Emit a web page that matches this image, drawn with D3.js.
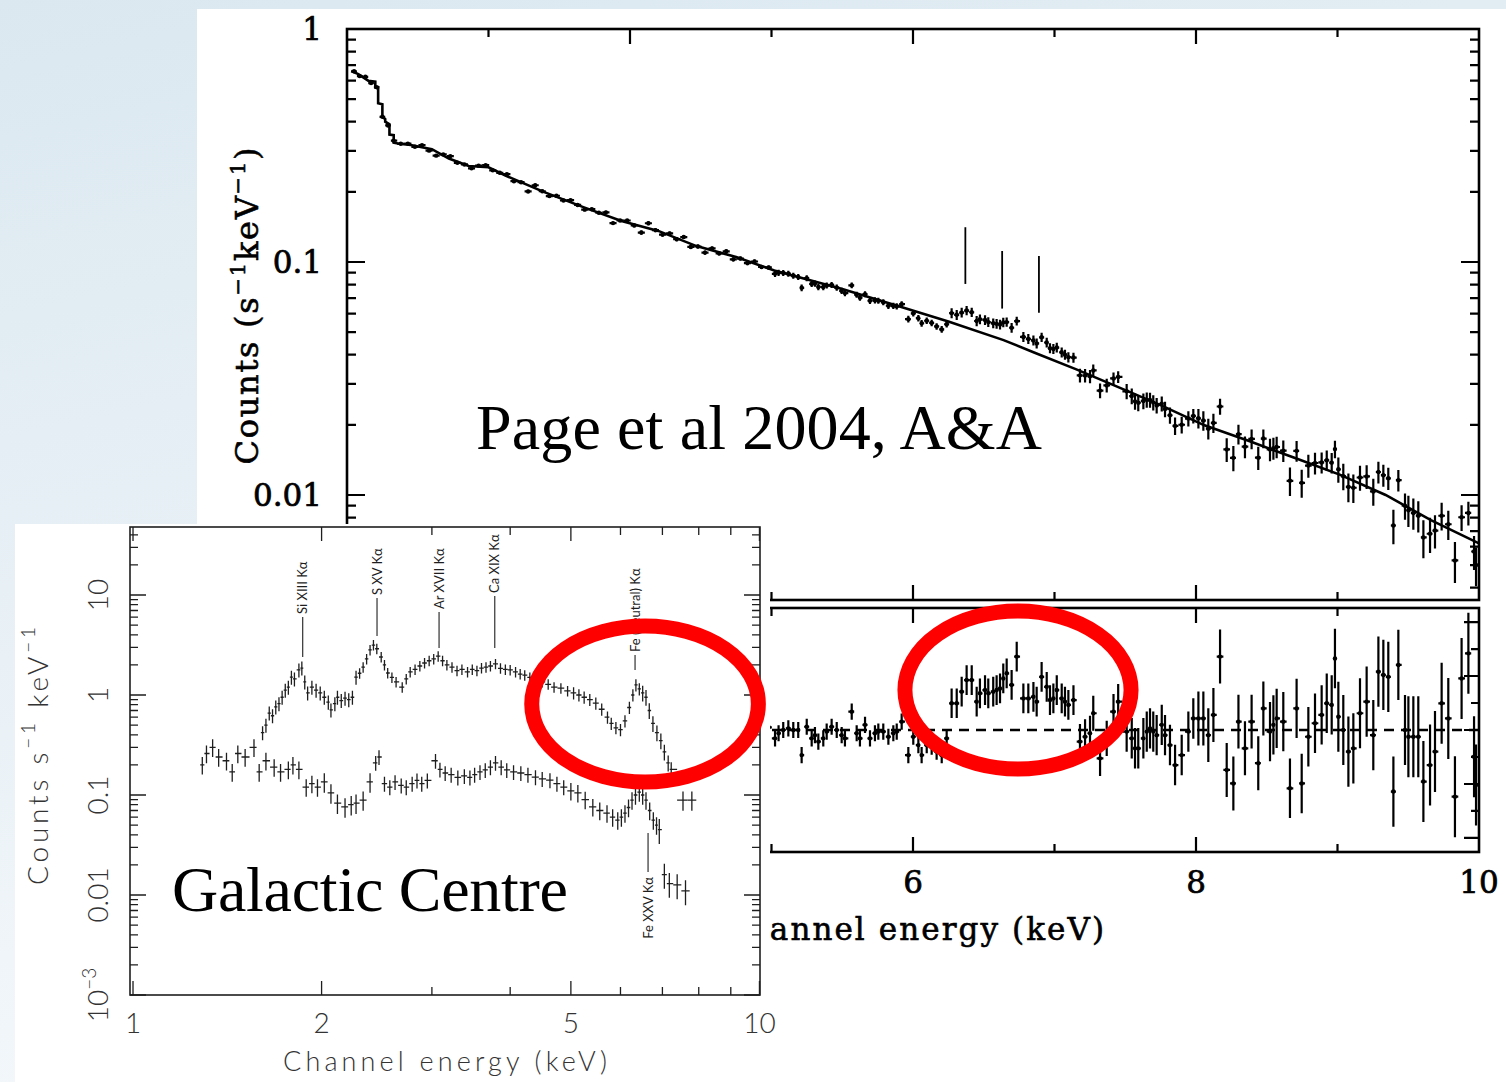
<!DOCTYPE html>
<html>
<head>
<meta charset="utf-8">
<title>Galactic Centre X-ray spectra</title>
<script src="https://cdn.jsdelivr.net/npm/d3@7/dist/d3.min.js"></script>
<style>
  html, body { margin: 0; padding: 0; background: #fff; }
  #slide svg { display: block; }
</style>
</head>
<body>
<div id="slide"></div>
<script>
// ---------- Page et al 2004 spectrum: model curve (keV, counts s^-1 keV^-1)
const modelE = [2.03, 2.08, 2.15, 2.2, 2.2, 2.22, 2.22, 2.25, 2.25, 2.27, 2.27, 2.3, 2.3, 2.33, 2.33, 2.37,
  2.45, 2.6, 2.72, 2.86, 3.0, 3.12, 3.39, 3.67, 3.94, 4.2, 4.47, 4.75, 5.02, 5.5, 5.9, 6.25,
  6.64, 6.86, 7.15, 7.43, 7.75, 8.06, 8.38, 8.7, 9.02, 9.34, 9.66, 10.0];
const modelC = [0.66, 0.64, 0.60, 0.595, 0.56, 0.555, 0.48, 0.475, 0.42, 0.41, 0.40, 0.39, 0.352, 0.35, 0.325, 0.322,
  0.318, 0.305, 0.278, 0.258, 0.255, 0.235, 0.2, 0.172, 0.15, 0.136, 0.117, 0.105, 0.092, 0.0765, 0.0645, 0.0555,
  0.0462, 0.0408, 0.0347, 0.0294, 0.0243, 0.0199, 0.017, 0.0144, 0.0122, 0.0100, 0.0078, 0.0062];

// channel energies and data/model ratio
const binE = [
  2.05, 2.09, 2.13, 2.17, 2.21, 2.25, 2.29, 2.33, 2.38, 2.43,
  2.48, 2.53, 2.58, 2.63, 2.68, 2.73, 2.78, 2.83, 2.88, 2.93,
  2.98, 3.03, 3.08, 3.13, 3.18, 3.23, 3.28, 3.33, 3.38, 3.43,
  3.48, 3.53, 3.58, 3.63, 3.68, 3.73, 3.78, 3.83, 3.88, 3.93,
  3.98, 4.03, 4.08, 4.13, 4.18, 4.23, 4.28, 4.33, 4.38, 4.43,
  4.48, 4.53, 4.58, 4.63, 4.68, 4.73, 4.78, 4.83, 4.88, 4.93,
  4.98,
  5.025, 5.05, 5.083, 5.119, 5.154, 5.189, 5.213, 5.249, 5.284, 5.307,
  5.331, 5.366, 5.39, 5.425, 5.461, 5.496, 5.519, 5.567, 5.602, 5.625,
  5.661, 5.696, 5.731, 5.755, 5.79, 5.826, 5.861, 5.885, 5.92, 5.967,
  6.002, 6.038, 6.061, 6.097, 6.132, 6.167, 6.203, 6.238, 6.273, 6.309,
  6.344, 6.379, 6.415, 6.45, 6.473, 6.509, 6.532, 6.567, 6.591, 6.615,
  6.638, 6.662, 6.697, 6.733, 6.78, 6.815, 6.851, 6.874, 6.909, 6.945,
  6.968, 6.992, 7.016, 7.051, 7.074, 7.098, 7.134, 7.18, 7.216, 7.251,
  7.274, 7.322, 7.369, 7.417, 7.45, 7.51, 7.546, 7.569, 7.592, 7.628,
  7.652, 7.675, 7.698, 7.722, 7.758, 7.781, 7.816, 7.852, 7.899, 7.946,
  7.981, 8.017, 8.052, 8.087, 8.123, 8.17, 8.217, 8.264, 8.3, 8.346,
  8.393, 8.44, 8.476, 8.523, 8.547, 8.57, 8.617, 8.664, 8.711, 8.747,
  8.794, 8.841, 8.888, 8.924, 8.959, 8.982, 9.006, 9.041, 9.077, 9.112,
  9.159, 9.206, 9.253, 9.289, 9.324, 9.359, 9.395, 9.43, 9.477, 9.501,
  9.536, 9.571, 9.607, 9.654, 9.689, 9.736, 9.783, 9.83, 9.877, 9.925,
  9.965, 9.979];
const binRatio = [
  1.01, 0.99, 1.02, 0.98, 1.01, 1.00, 0.98, 1.02, 1.00, 1.01,
  0.99, 1.02, 0.98, 0.96, 1.01, 1.03, 0.99, 1.00, 0.98, 1.01,
  1.02, 0.99, 1.00, 1.02, 0.98, 1.00, 0.94, 1.03, 1.00, 0.98,
  1.01, 0.99, 1.02, 1.00, 0.98, 1.01, 1.00, 1.03, 0.95, 1.00,
  1.02, 0.99, 0.94, 1.05, 1.00, 0.98, 1.02, 0.99, 1.04, 0.97,
  1.00, 0.96, 1.02, 0.99, 1.03, 0.97, 1.00, 0.98, 1.02, 0.99,
  1.01,
  0.969, 0.988, 1.0, 1.006, 1.0, 1.0, 0.907, 1.012, 0.969, 0.981,
  0.957, 0.969, 0.994, 1.012, 1.0, 0.981, 0.969, 1.068, 0.988, 0.969,
  1.019, 0.969, 0.988, 0.994, 0.994, 0.975, 0.988, 0.994, 1.031, 0.907,
  0.975, 0.944, 0.907, 0.944, 0.938, 0.92, 0.907, 0.969, 1.099, 1.099,
  1.142, 1.185, 1.185, 1.105, 1.136, 1.148, 1.136, 1.142, 1.148, 1.154,
  1.191, 1.21, 1.167, 1.272, 1.117, 1.117, 1.123, 1.105, 1.197, 1.16,
  1.111, 1.117, 1.148, 1.117, 1.105, 1.093, 1.111, 0.957, 0.975, 0.988,
  1.062, 0.895, 0.969, 1.068, 1.105, 0.994, 0.969, 0.932, 0.932, 0.969,
  0.994, 1.006, 0.994, 0.981, 1.019, 0.981, 0.944, 0.87, 0.907, 0.994,
  1.043, 1.043, 1.043, 0.981, 1.056, 1.272, 0.852, 0.802, 1.031, 0.932,
  1.031, 0.877, 1.08, 0.994, 1.019, 1.043, 1.031, 0.784, 1.08, 0.802,
  0.975, 1.025, 1.056, 1.099, 1.093, 1.265, 1.049, 1.0, 0.92, 0.932,
  1.062, 1.105, 0.981, 1.216, 1.204, 1.197, 0.772, 1.241, 1.0, 0.975,
  0.975, 0.975, 0.809, 0.87, 0.92, 1.099, 1.043, 0.753, 1.191, 1.284,
  0.901, 0.796];
// ratio error, by energy band
const errBandE = [3, 4, 5, 6.25, 7.15, 7.5, 8, 8.5, 9, 9.5];
const errBandVal = [0.012, 0.015, 0.02, 0.03, 0.055, 0.065, 0.075, 0.1, 0.11, 0.13, 0.15];
// iron line markers above the spectrum
const markE = [6.37, 6.63, 6.89];
const markTop = [0.141, 0.1115, 0.1061];
const markBottom = [0.0805, 0.0631, 0.0605];
const mainXLabels = [6, 8, 10];
const mainYLabels = ['1', '0.1', '0.01'];
const ratioTicks = [0.6, 0.7, 0.8, 0.9, 1.0, 1.1, 1.2, 1.3, 1.4];

// ---------- Galactic Centre inset: two spectra
const gcHardE = [
  1.61, 1.63, 1.65, 1.67, 1.69, 1.71, 1.73, 1.75, 1.77, 1.79,
  1.81, 1.84, 1.86, 1.88, 1.90, 1.93, 1.96, 1.99, 2.02, 2.05,
  2.07, 2.10, 2.12, 2.15, 2.18, 2.21, 2.24, 2.27, 2.30, 2.33,
  2.36, 2.39, 2.42, 2.45, 2.49, 2.52, 2.55, 2.59, 2.63, 2.69,
  2.73, 2.77, 2.82, 2.87, 2.92, 2.97, 3.02, 3.07, 3.12, 3.17,
  3.23, 3.29, 3.35, 3.42, 3.48, 3.54, 3.60, 3.66, 3.72, 3.79,
  3.86, 3.93, 4.00, 4.08, 4.15, 4.22, 4.30, 4.40, 4.50, 4.60,
  4.70, 4.82, 4.94, 5.05, 5.15, 5.25, 5.36, 5.48, 5.60, 5.72,
  5.80, 5.90, 6.00, 6.10, 6.20, 6.28, 6.35, 6.43, 6.51, 6.59,
  6.67, 6.76, 6.86, 6.96, 7.05, 7.15, 7.23, 7.55, 7.80];
const gcHardC = [
  0.42, 0.50, 0.66, 0.62, 0.76, 0.82, 0.95, 1.12, 1.20, 1.51,
  1.45, 1.78, 1.86, 1.35, 1.05, 1.20, 1.12, 1.05, 0.95, 0.85,
  0.71, 0.82, 0.95, 0.88, 0.93, 0.90, 0.95, 1.51, 1.65, 1.90,
  2.30, 2.82, 3.16, 2.90, 2.40, 2.00, 1.66, 1.50, 1.35, 1.20,
  1.45, 1.70, 1.80, 1.95, 2.09, 2.20, 2.30, 2.45, 2.20, 2.00,
  1.90, 1.75, 1.80, 1.70, 1.80, 1.75, 1.86, 1.90, 1.95, 2.05,
  1.85, 1.80, 1.78, 1.70, 1.62, 1.58, 1.50, 1.42, 1.35, 1.28,
  1.20, 1.17, 1.10, 1.05, 1.00, 0.95, 0.90, 0.83, 0.72, 0.60,
  0.52, 0.47, 0.45, 0.55, 0.75, 1.00, 1.26, 1.15, 1.05, 0.95,
  0.70, 0.52, 0.42, 0.35, 0.27, 0.21, 0.18, 0.089, 0.089];
const gcSoftE = [
  1.29, 1.31, 1.34, 1.37, 1.41, 1.44, 1.47, 1.51, 1.56, 1.59,
  1.63, 1.68, 1.72, 1.77, 1.80, 1.84, 1.89, 1.93, 1.97, 2.02,
  2.07, 2.12, 2.18, 2.23, 2.27, 2.33, 2.39, 2.44, 2.47, 2.52,
  2.57, 2.62, 2.68, 2.73, 2.79, 2.84, 2.89, 2.95, 3.04, 3.09,
  3.15, 3.22, 3.30, 3.38, 3.45, 3.51, 3.58, 3.65, 3.72, 3.79,
  3.87, 3.95, 4.05, 4.16, 4.27, 4.39, 4.50, 4.63, 4.75, 4.87,
  5.00, 5.13, 5.27, 5.42, 5.56, 5.71, 5.83, 5.94, 6.02, 6.10,
  6.18, 6.26, 6.34, 6.43, 6.51, 6.59, 6.68, 6.77, 6.85, 6.92,
  7.05, 7.18, 7.39, 7.62];
const gcSoftC = [
  0.20, 0.26, 0.30, 0.24, 0.22, 0.17, 0.26, 0.24, 0.30, 0.17,
  0.22, 0.19, 0.17, 0.18, 0.20, 0.18, 0.12, 0.13, 0.12, 0.135,
  0.105, 0.083, 0.076, 0.080, 0.083, 0.089, 0.135, 0.21, 0.24, 0.13,
  0.12, 0.135, 0.125, 0.12, 0.13, 0.14, 0.13, 0.14, 0.22, 0.18,
  0.166, 0.16, 0.15, 0.155, 0.15, 0.16, 0.17, 0.178, 0.19, 0.21,
  0.19, 0.178, 0.17, 0.166, 0.16, 0.151, 0.145, 0.141, 0.13, 0.12,
  0.11, 0.105, 0.09, 0.076, 0.07, 0.066, 0.06, 0.056, 0.06, 0.066,
  0.075, 0.089, 0.10, 0.107, 0.10, 0.089, 0.07, 0.056, 0.05, 0.045,
  0.016, 0.013, 0.0126, 0.011];
// fractional errors by energy band
const hardErrBandE = [2.3, 5.0, 6.5, 7.4];
const hardErrVal = [0.16, 0.12, 0.14, 0.18, 0.22];
const softErrBandE = [2.0, 2.4, 5.0, 6.9];
const softErrVal = [0.2, 0.22, 0.17, 0.2, 0.28];
// emission line identifications
const hardLineNames = ['Si XIII Kα', 'S XV Kα', 'Ar XVII Kα', 'Ca XIX Kα', 'Fe (neutral) Kα'];
const hardLineE = [1.866, 2.452, 3.08, 3.78, 6.33];
const hardLineTop = [6.03, 9.33, 6.76, 9.77, 2.51];
const hardLineBottom = [2.4, 3.89, 2.95, 2.95, 1.78];
const softLineNames = ['Fe XXV Kα'];
const softLineE = [6.64];
const softLineTop = [0.0417];
const softLineBottom = [0.017];
const insetXLabels = [1, 2, 5, 10];
const insetYLabels = [10, 1, 0.1, 0.01, 0.001];

// highlighted regions: [E low, E high, value low, value high]
const ringInset = [4.33, 9.96, 0.135, 4.9];
const ringRatio = [5.943, 7.541, 0.8556, 1.4407];

const svgW = 1506, svgH = 1082;
const svg = d3.select('#slide').append('svg')
    .attr('width', svgW)
    .attr('height', svgH);
const defs = svg.append('defs');

drawBackground();
const mainScales = displayMainSpectrum();
const insetScales = displayInset();
drawRings();

function drawBackground() {
  const grad = defs.append('linearGradient')
      .attr('id', 'slide-bg')
      .attr('x1', 0).attr('y1', 0).attr('x2', 0.3).attr('y2', 1);
  grad.append('stop').attr('offset', 0).attr('stop-color', '#dbe8f0');
  grad.append('stop').attr('offset', 1).attr('stop-color', '#f4f8fb');
  svg.append('rect').attr('width', svgW).attr('height', svgH).attr('fill', 'url(#slide-bg)');
  // pasted plot image area
  svg.append('rect')
      .attr('x', 197).attr('y', 9)
      .attr('width', svgW - 197).attr('height', svgH - 9)
      .attr('fill', '#fff');
}

// bin edges halfway to the neighbouring points (pixel space)
function binEdges(px) {
  return px.map((p, i) => {
    const prev = i > 0 ? px[i - 1] : 2 * p - px[i + 1];
    const next = i < px.length - 1 ? px[i + 1] : 2 * p - px[i - 1];
    return [(prev + p) / 2, (p + next) / 2];
  });
}

function displayMainSpectrum() {
  const x = d3.scaleLinear().domain([2, 10]).range([347, 1479]);
  const y = d3.scaleLog().domain([0.003542, 1]).range([600, 29]);
  const yr = d3.scaleLinear().domain([0.548, 1.452]).range([852, 608]);
  const g = svg.append('g').attr('id', 'page-spectrum');

  const logModel = d3.scaleLinear().domain(modelE).range(modelC.map(Math.log10));
  const errAt = d3.scaleThreshold().domain(errBandE).range(errBandVal);
  const px = binE.map(e => x(e));
  const edges = binEdges(px);
  const bins = binE.map((e, i) => ({
    e, r: binRatio[i], dr: errAt(e),
    m: Math.pow(10, logModel(e)),
    xl: edges[i][0], xr: edges[i][1]
  }));

  defs.append('clipPath').attr('id', 'clip-upper')
    .append('rect').attr('x', 347).attr('y', 29).attr('width', 1132).attr('height', 571);
  defs.append('clipPath').attr('id', 'clip-lower')
    .append('rect').attr('x', 347).attr('y', 608).attr('width', 1132).attr('height', 244);

  // model
  const upper = g.append('g').attr('clip-path', 'url(#clip-upper)');
  upper.append('path')
      .datum(modelE)
      .attr('d', d3.line().x(d => x(d)).y((d, i) => y(modelC[i])))
      .attr('fill', 'none')
      .attr('stroke', '#000')
      .attr('stroke-width', 2.6);

  // data points with error bars
  upper.append('g')
      .attr('fill', 'none').attr('stroke', '#000').attr('stroke-width', 2.2)
    .selectAll('path')
    .data(bins)
    .join('path')
      .attr('d', d => `M${d.xl},${y(d.m * d.r)}H${d.xr}M${x(d.e)},${y(d.m * (d.r + d.dr))}V${y(d.m * (d.r - d.dr))}`);
  upper.append('g')
    .selectAll('circle')
    .data(bins)
    .join('circle')
      .attr('cx', d => x(d.e))
      .attr('cy', d => y(d.m * d.r))
      .attr('r', 2.2)
      .attr('fill', '#000');

  // ratio panel
  const lower = g.append('g').attr('clip-path', 'url(#clip-lower)');
  lower.append('line')
      .attr('x1', x(2)).attr('x2', x(10))
      .attr('y1', yr(1)).attr('y2', yr(1))
      .attr('stroke', '#000').attr('stroke-width', 2.6)
      .attr('stroke-dasharray', '10,7');
  lower.append('g')
      .attr('fill', 'none').attr('stroke', '#000').attr('stroke-width', 2.2)
    .selectAll('path')
    .data(bins)
    .join('path')
      .attr('d', d => `M${d.xl},${yr(d.r)}H${d.xr}M${x(d.e)},${yr(d.r + d.dr)}V${yr(d.r - d.dr)}`);
  lower.append('g')
    .selectAll('circle')
    .data(bins)
    .join('circle')
      .attr('cx', d => x(d.e))
      .attr('cy', d => yr(d.r))
      .attr('r', 2.2)
      .attr('fill', '#000');

  // line markers
  g.append('g')
    .selectAll('line')
    .data(markE)
    .join('line')
      .attr('x1', d => x(d)).attr('x2', d => x(d))
      .attr('y1', (d, i) => y(markTop[i]))
      .attr('y2', (d, i) => y(markBottom[i]))
      .attr('stroke', '#000').attr('stroke-width', 1.8);

  // frames
  const frame = g.append('g').attr('fill', 'none').attr('stroke', '#000').attr('stroke-width', 2.6);
  frame.append('rect').attr('x', 347).attr('y', 29).attr('width', 1132).attr('height', 571);
  frame.append('rect').attr('x', 347).attr('y', 608).attr('width', 1132).attr('height', 244);

  // ticks
  const tick = [];
  x.ticks(8).forEach(v => {
    if (v <= 2 || v >= 10) return;
    const len = v % 2 === 0 ? 15 : 8;
    tick.push(`M${x(v)},29v${len}`, `M${x(v)},600v${-len}`, `M${x(v)},608v${len}`, `M${x(v)},852v${-len}`);
  });
  y.ticks().forEach(v => {
    const lg = Math.log10(v);
    const len = Math.abs(lg - Math.round(lg)) < 1e-6 ? 18 : 9;
    if (y(v) < 30 || y(v) > 599) return;
    tick.push(`M347,${y(v)}h${len}`, `M1479,${y(v)}h${-len}`);
  });
  ratioTicks.forEach(v => {
    const len = Math.round(v * 10) % 2 === 0 ? 15 : 8;
    tick.push(`M347,${yr(v)}h${len}`, `M1479,${yr(v)}h${-len}`);
  });
  frame.append('path').attr('d', tick.join('')).attr('stroke-width', 2.2);

  // tick labels
  const lab = g.append('g')
      .attr('font-family', "'DejaVu Serif', serif")
      .attr('font-size', 31)
      .attr('fill', '#000').attr('stroke', '#000').attr('stroke-width', 0.7);
  lab.selectAll('text.ylab')
    .data(mainYLabels)
    .join('text')
      .attr('class', 'ylab')
      .attr('x', 322)
      .attr('y', d => y(+d) + 11)
      .attr('text-anchor', 'end')
      .text(d => d);
  lab.selectAll('text.xlab')
    .data(mainXLabels)
    .join('text')
      .attr('class', 'xlab')
      .attr('x', d => x(d))
      .attr('y', 893)
      .attr('text-anchor', 'middle')
      .text(d => d);

  // axis titles
  g.append('text')
      .attr('x', 913).attr('y', 940)
      .attr('text-anchor', 'middle')
      .attr('font-family', "'DejaVu Serif', serif")
      .attr('font-size', 31)
      .attr('stroke', '#000').attr('stroke-width', 0.6)
      .attr('textLength', 382).attr('lengthAdjust', 'spacing')
      .text('Channel energy (keV)');
  const yt = g.append('text')
      .attr('transform', 'translate(258,306) rotate(-90)')
      .attr('text-anchor', 'middle')
      .attr('font-family', "'DejaVu Serif', serif")
      .attr('font-size', 32)
      .attr('stroke', '#000').attr('stroke-width', 0.6)
      .attr('textLength', 317).attr('lengthAdjust', 'spacing');
  yt.append('tspan').text('Counts (s');
  yt.append('tspan').attr('font-size', 21).attr('dy', -13).text('−1');
  yt.append('tspan').attr('dy', 13).text('keV');
  yt.append('tspan').attr('font-size', 21).attr('dy', -13).text('−1');
  yt.append('tspan').attr('dy', 13).text(')');

  // caption
  svg.append('text')
      .attr('x', 476).attr('y', 449)
      .attr('font-family', "'Liberation Serif', 'Times New Roman', serif")
      .attr('font-size', 64)
      .attr('textLength', 566)
      .text('Page et al 2004, A&A');

  return { x, y, yr };
}

function displayInset() {
  svg.append('rect')
      .attr('x', 15).attr('y', 524)
      .attr('width', 755).attr('height', svgH - 524)
      .attr('fill', '#fff');
  const x = d3.scaleLog().domain([0.989, 10.02]).range([130, 760]);
  const y = d3.scaleLog().domain([0.001, 47.86]).range([995, 527]);
  const g = svg.append('g').attr('id', 'gc-inset');
  const ink = '#1e1e1e';

  function spectrum(E, C, bandE, bandVal) {
    const errAt = d3.scaleThreshold().domain(bandE).range(bandVal);
    const px = E.map(e => x(e));
    const edges = binEdges(px);
    g.append('g')
        .attr('fill', 'none').attr('stroke', ink).attr('stroke-width', 1.3)
      .selectAll('path')
      .data(E)
      .join('path')
        .attr('d', (e, i) => {
          const c = C[i], f = errAt(e);
          return `M${edges[i][0]},${y(c)}H${edges[i][1]}M${px[i]},${y(c * (1 + f))}V${y(c * (1 - f))}`;
        });
  }
  spectrum(gcHardE, gcHardC, hardErrBandE, hardErrVal);
  spectrum(gcSoftE, gcSoftC, softErrBandE, softErrVal);

  // frame and ticks
  const frame = g.append('g').attr('fill', 'none').attr('stroke', ink).attr('stroke-width', 1.6);
  frame.append('rect').attr('x', 130).attr('y', 527).attr('width', 630).attr('height', 468);
  const tick = [];
  x.ticks().forEach(v => {
    const len = insetXLabels.includes(v) ? 14 : 8;
    tick.push(`M${x(v)},995v${-len}`, `M${x(v)},527v${len}`);
  });
  y.ticks().forEach(v => {
    const lg = Math.log10(v);
    const len = Math.abs(lg - Math.round(lg)) < 1e-6 ? 16 : 8;
    tick.push(`M130,${y(v)}h${len}`, `M760,${y(v)}h${-len}`);
  });
  frame.append('path').attr('d', tick.join('')).attr('stroke-width', 1.3);

  // line identifications
  const lines = g.append('g').attr('font-family', "Lato, 'Liberation Sans', sans-serif")
      .attr('font-size', 13).attr('fill', ink);
  hardLineE.forEach((e, i) => {
    lines.append('line')
        .attr('x1', x(e)).attr('x2', x(e))
        .attr('y1', y(hardLineTop[i])).attr('y2', y(hardLineBottom[i]))
        .attr('stroke', ink).attr('stroke-width', 1.1);
    lines.append('text')
        .attr('transform', `translate(${x(e) + 4.5},${y(hardLineTop[i]) - 3}) rotate(-90)`)
        .attr('text-anchor', 'start')
        .text(hardLineNames[i]);
  });
  softLineE.forEach((e, i) => {
    lines.append('line')
        .attr('x1', x(e)).attr('x2', x(e))
        .attr('y1', y(softLineTop[i])).attr('y2', y(softLineBottom[i]))
        .attr('stroke', ink).attr('stroke-width', 1.1);
    lines.append('text')
        .attr('transform', `translate(${x(e) + 4.5},${y(softLineBottom[i]) + 5}) rotate(-90)`)
        .attr('text-anchor', 'end')
        .text(softLineNames[i]);
  });

  // tick labels
  const lab = g.append('g')
      .attr('font-family', "Lato, 'Liberation Sans', sans-serif")
      .attr('font-weight', 300)
      .attr('font-size', 28)
      .attr('fill', '#333');
  lab.selectAll('text.xlab')
    .data(insetXLabels)
    .join('text')
      .attr('class', 'xlab')
      .attr('x', d => x(d))
      .attr('y', 1033)
      .attr('text-anchor', 'middle')
      .text(d => d);
  insetYLabels.forEach(v => {
    const t = lab.append('text')
        .attr('transform', `translate(108,${y(v)}) rotate(-90)`)
        .attr('text-anchor', 'middle');
    if (v < 0.005) {
      t.append('tspan').text('10');
      t.append('tspan').attr('font-size', 19).attr('dy', -12).text('−3');
    } else {
      t.text(v);
    }
  });

  lab.append('text')
      .attr('x', 445).attr('y', 1071)
      .attr('text-anchor', 'middle')
      .attr('font-size', 27)
      .attr('textLength', 324).attr('lengthAdjust', 'spacing')
      .text('Channel energy (keV)');
  const yt = lab.append('text')
      .attr('transform', 'translate(48,756) rotate(-90)')
      .attr('text-anchor', 'middle')
      .attr('font-size', 28)
      .attr('textLength', 258).attr('lengthAdjust', 'spacing');
  yt.append('tspan').text('Counts  s');
  yt.append('tspan').attr('font-size', 19).attr('dy', -13).text('−1');
  yt.append('tspan').attr('dy', 13).text('  keV');
  yt.append('tspan').attr('font-size', 19).attr('dy', -13).text('−1');

  svg.append('text')
      .attr('x', 172).attr('y', 911)
      .attr('font-family', "'Liberation Serif', 'Times New Roman', serif")
      .attr('font-size', 64)
      .attr('textLength', 396)
      .text('Galactic Centre');

  return { x, y };
}

function drawRings() {
  const rings = [
    { box: ringInset, sx: insetScales.x, sy: insetScales.y },
    { box: ringRatio, sx: mainScales.x, sy: mainScales.yr }
  ];
  svg.append('g')
    .selectAll('ellipse')
    .data(rings)
    .join('ellipse')
      .attr('cx', d => (d.sx(d.box[0]) + d.sx(d.box[1])) / 2)
      .attr('cy', d => (d.sy(d.box[2]) + d.sy(d.box[3])) / 2)
      .attr('rx', d => Math.abs(d.sx(d.box[1]) - d.sx(d.box[0])) / 2)
      .attr('ry', d => Math.abs(d.sy(d.box[2]) - d.sy(d.box[3])) / 2)
      .attr('fill', 'none')
      .attr('stroke', '#ff0000')
      .attr('stroke-width', 15);
}
</script>
</body>
</html>
